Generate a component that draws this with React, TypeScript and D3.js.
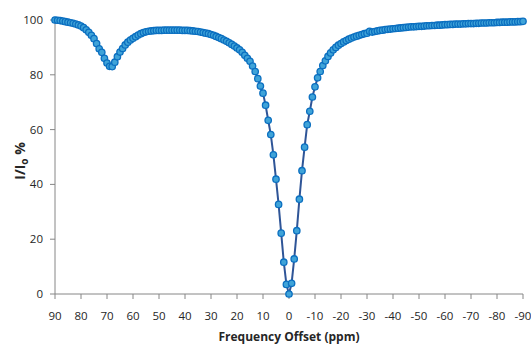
import { useEffect, useRef } from 'react';
import * as d3 from 'd3';

// frequency offsets, 90 down to -90 ppm in 1 ppm steps
const offsets: number[] = d3.range(90, -91, -1);

// I/Io %, one per offset (90 → -90)
const intensity: number[] = [
  100.0, 99.9, 99.8, 99.6, 99.4, 99.2, 99.0, 98.8, 98.5, 98.2,
  97.8, 97.2, 96.4, 95.5, 94.4, 93.2, 91.4, 89.5, 88.2, 86.0,
  84.3, 83.1, 83.0, 84.6, 86.6, 88.3, 89.6, 90.9, 91.9, 92.7,
  93.3, 93.9, 94.5, 95.0, 95.4, 95.7, 95.9, 96.0, 96.1, 96.2,
  96.2, 96.2, 96.3, 96.3, 96.3, 96.3, 96.3, 96.3, 96.3, 96.2,
  96.2, 96.2, 96.1, 96.0, 95.9, 95.8, 95.6, 95.4, 95.2, 95.0,
  94.7, 94.4, 94.0, 93.6, 93.2, 92.7, 92.2, 91.7, 91.1, 90.5,
  89.8, 89.1, 88.2, 87.1, 86.0, 84.9, 83.2, 81.2, 78.6, 75.9,
  73.3, 68.9, 63.4, 58.2, 50.8, 41.9, 32.7, 22.2, 11.6, 3.5,
  0.0,
  3.9, 12.8, 23.1, 34.6, 45.0, 53.6, 61.8, 66.7, 71.9, 75.6,
  78.9, 81.2, 83.4, 85.1, 86.7, 88.0, 89.1, 90.0, 90.8, 91.4,
  92.0, 92.5, 93.0, 93.4, 93.8, 94.1, 94.4, 94.7, 95.0, 95.2,
  95.9, 95.6, 95.8, 96.0, 96.2, 96.3, 96.5, 96.6, 96.7, 96.8,
  96.9, 97.0, 97.1, 97.2, 97.3, 97.4, 97.5, 97.5, 97.6, 97.7,
  97.7, 97.8, 97.9, 97.9, 98.0, 98.0, 98.1, 98.1, 98.2, 98.3,
  98.3, 98.4, 98.4, 98.5, 98.5, 98.5, 98.6, 98.6, 98.7, 98.7,
  98.7, 98.8, 98.8, 98.9, 98.9, 98.9, 99.0, 99.0, 99.0, 99.1,
  99.1, 99.2, 99.2, 99.2, 99.3, 99.3, 99.3, 99.4, 99.4, 99.5,
];

const xTicks: number[] = d3.range(90, -91, -10);
const yTicks: number[] = [0, 20, 40, 60, 80, 100];

export default function App() {
  const svgRef = useRef<SVGSVGElement>(null);

  useEffect(() => {
    if (!svgRef.current) return;
    const svg = d3.select(svgRef.current);
    svg.selectAll('*').remove();

    const data = offsets.map((o, i) => ({ o, v: intensity[i] }));
    const axisCol = '#868686';
    const font = '"Open Sans", "Noto Sans", sans-serif';

    const x = d3.scaleLinear().domain([90, -90]).range([55, 523]);
    const y = d3.scaleLinear().domain([0, 100]).range([294, 20]);

    // axes
    svg.append('line').attr('x1', x(90)).attr('x2', x(90)).attr('y1', y(0)).attr('y2', y(100))
      .attr('stroke', axisCol).attr('stroke-width', 1);
    svg.append('line').attr('x1', x(90)).attr('x2', x(-90)).attr('y1', y(0)).attr('y2', y(0))
      .attr('stroke', axisCol).attr('stroke-width', 1);

    const yt = svg.append('g');
    yTicks.forEach(t => {
      yt.append('line').attr('x1', x(90) - 5).attr('x2', x(90)).attr('y1', y(t)).attr('y2', y(t))
        .attr('stroke', axisCol);
      yt.append('text').attr('x', x(90) - 12).attr('y', y(t)).attr('dy', '0.35em')
        .attr('text-anchor', 'end').attr('font-family', font).attr('font-size', 11.5)
        .attr('fill', '#262626').text(t);
    });

    const xt = svg.append('g');
    xTicks.forEach(t => {
      xt.append('line').attr('x1', x(t)).attr('x2', x(t)).attr('y1', y(0)).attr('y2', y(0) + 5)
        .attr('stroke', axisCol);
      xt.append('text').attr('x', x(t)).attr('y', 320)
        .attr('text-anchor', 'middle').attr('font-family', font).attr('font-size', 11.5)
        .attr('fill', '#262626').text(t);
    });

    // titles
    svg.append('text').attr('x', x(0)).attr('y', 341).attr('text-anchor', 'middle')
      .attr('font-family', font).attr('font-size', 12).attr('font-weight', 'bold')
      .attr('fill', '#262626').text('Frequency Offset (ppm)');

    const yl = svg.append('text').attr('transform', 'translate(25,161) rotate(-90)')
      .attr('text-anchor', 'middle').attr('font-family', font).attr('font-size', 14)
      .attr('font-weight', 'bold').attr('fill', '#262626');
    yl.append('tspan').text('I/I');
    yl.append('tspan').attr('font-size', 10).attr('dy', 3).text('o');
    yl.append('tspan').attr('dy', -3).text(' %');

    // series
    const line = d3.line<{ o: number; v: number }>().x(d => x(d.o)).y(d => y(d.v));
    svg.append('path').datum(data).attr('d', line)
      .attr('fill', 'none').attr('stroke', '#2f5597').attr('stroke-width', 2);

    svg.append('g').selectAll('circle').data(data).enter().append('circle')
      .attr('cx', d => x(d.o)).attr('cy', d => y(d.v)).attr('r', 3.2)
      .attr('fill', '#3fa3d8').attr('stroke', '#0b6fc0').attr('stroke-width', 1.3);
  }, []);

  return (
    <svg ref={svgRef} width={531} height={347}
      style={{ position: 'absolute', left: 0, top: 0, display: 'block' }} />
  );
}
